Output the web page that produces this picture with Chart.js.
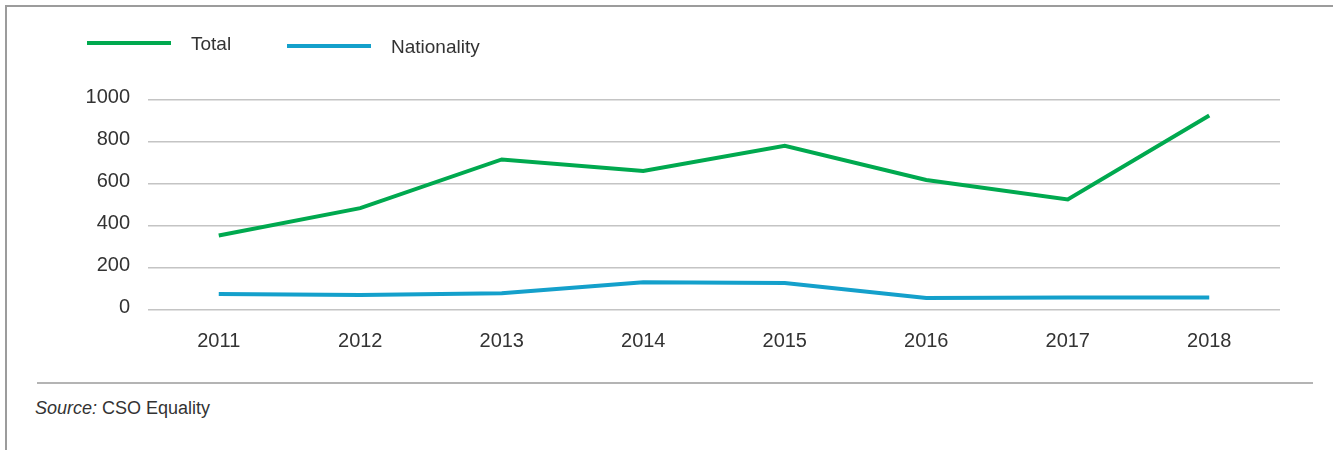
<!DOCTYPE html>
<html>
<head>
<meta charset="utf-8">
<script src="https://cdn.jsdelivr.net/npm/chart.js@4/dist/chart.umd.min.js"></script>
<style>
  body { margin:0; background:#fff; width:1333px; height:450px; overflow:hidden; position:relative;
         font-family:"Liberation Sans",Arial,sans-serif; color:#333; }
  #frame { position:absolute; left:5px; top:5px; width:1340px; height:460px;
           border-top:2px solid #9c9c9c; border-left:2px solid #9c9c9c; }
  #wrap { position:absolute; left:0; top:0; width:1333px; height:370px; }
  #rule { position:absolute; left:37px; top:382px; width:1276px; height:0; border-top:2px solid #b4b4b4; }
  #source { position:absolute; left:35px; top:398px; font-size:18px; color:#333; }
</style>
</head>
<body>
<div id="frame"></div>
<div id="wrap"><canvas id="chart"></canvas></div>
<div id="rule"></div>
<div id="source"><i>Source:</i> CSO Equality</div>
<script>
// data
const years = ['2011','2012','2013','2014','2015','2016','2017','2018'];
const total = [355, 485, 717, 662, 782, 619, 526, 926];
const nationality = [76, 72, 80, 132, 129, 57, 60, 59];
const yTicks = [0, 200, 400, 600, 800, 1000];

const FONT = '"Liberation Sans",Arial,sans-serif';

// legend drawn on canvas: bar then label, placed like the original
const lineLegend = {
  id: 'lineLegend',
  afterDraw(chart, args, opts) {
    const ctx = chart.ctx;
    ctx.save();
    chart.data.datasets.forEach((ds, i) => {
      const it = opts.items[i];
      ctx.strokeStyle = ds.borderColor;
      ctx.lineWidth = 4;
      ctx.beginPath();
      ctx.moveTo(it.x, it.y);
      ctx.lineTo(it.x + 84, it.y);
      ctx.stroke();
      ctx.fillStyle = '#333';
      ctx.font = '19px ' + FONT;
      ctx.textBaseline = 'middle';
      ctx.fillText(ds.label, it.x + 104, it.y + 2);
    });
    ctx.restore();
  }
};

const data = {
  labels: years,
  datasets: [
    { label: 'Total', data: total, borderColor: '#00a94f', borderWidth: 4, pointRadius: 0, tension: 0 },
    { label: 'Nationality', data: nationality, borderColor: '#14a0cb', borderWidth: 4, pointRadius: 0, tension: 0 }
  ]
};

const config = {
  type: 'line',
  data: data,
  options: {
    responsive: true,
    maintainAspectRatio: false,
    animation: false,
    layout: { padding: { top: 100, right: 53, bottom: 10, left: 0 } },
    scales: {
      x: {
        offset: true,
        grid: { display: false },
        border: { display: false },
        ticks: { color: '#333', font: { family: FONT, size: 20 }, padding: 11, maxRotation: 0 },
        afterFit: (s) => { s.height = 50; }
      },
      y: {
        min: 0,
        max: 1000,
        afterBuildTicks: (s) => { s.ticks = yTicks.map(v => ({ value: v })); },
        grid: { color: '#c4c4c4', lineWidth: 1.5, drawTicks: false },
        border: { display: false },
        ticks: { color: '#333', font: { family: FONT, size: 20 }, padding: 18, labelOffset: -3, callback: (v) => String(v) },
        afterFit: (s) => { s.width = 148; }
      }
    },
    plugins: {
      legend: { display: false },
      tooltip: { enabled: false },
      lineLegend: { items: [ { x: 87, y: 43 }, { x: 287, y: 46 } ] }
    }
  },
  plugins: [lineLegend]
};

const myChart = new Chart(document.getElementById('chart').getContext('2d'), config);
</script>
</body>
</html>
